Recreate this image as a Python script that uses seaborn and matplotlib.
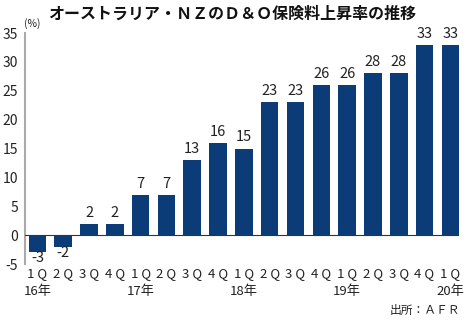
import matplotlib
matplotlib.use("Agg")
import matplotlib.pyplot as plt
import seaborn as sns
import pandas as pd

quarters = ["1 Q", "2 Q", "3 Q", "4 Q", "1 Q", "2 Q", "3 Q", "4 Q", "1 Q",
            "2 Q", "3 Q", "4 Q", "1 Q", "2 Q", "3 Q", "4 Q", "1 Q"]
values = [-3, -2, 2, 2, 7, 7, 13, 16, 15, 23, 23, 26, 26, 28, 28, 33, 33]
year_labels = ["16年", "17年", "18年", "19年", "20年"]
year_positions = [0, 4, 8, 12, 16]
yticks = [-5, 0, 5, 10, 15, 20, 25, 30, 35]

sns.set_theme(style="white")
plt.rcParams['font.family'] = ['Noto Sans CJK JP', 'DejaVu Sans']

df = pd.DataFrame({"idx": [str(i) for i in range(len(values))], "value": values})

fig = plt.figure(figsize=(4.65, 3.22), dpi=100)
ax = fig.add_axes([0.0538, 0.180, 0.933, 0.7175])
bar_color = "#0b3c78"
sns.barplot(data=df, x="idx", y="value", color=bar_color, width=0.68,
            saturation=1, ax=ax, edgecolor="none")

ax.set_xlim(-0.48, 16.33)
ax.set_ylim(-5, 35)
ax.set_yticks(yticks)
ax.set_yticklabels([str(t) for t in yticks], fontsize=10, color="#222222")
ax.set_xticks(range(len(values)))
ax.set_xticklabels(quarters, fontsize=9.5, color="#222222")
ax.set_xlabel("")
ax.set_ylabel("")

for s in ["top", "right", "bottom"]:
    ax.spines[s].set_visible(False)
ax.spines["left"].set_color("#aaaaaa")
ax.spines["left"].set_linewidth(1.5)
ax.tick_params(axis="y", direction="in", length=3, color="#aaaaaa", width=1, pad=5)
ax.tick_params(axis="x", length=0, pad=2)
ax.axhline(0, color="#333333", linewidth=0.8, zorder=3)

for i, v in enumerate(values):
    if v >= 0:
        ax.text(i, v + 0.7, str(v), ha="center", va="bottom", fontsize=10.5, color="#222222")
    else:
        ax.text(i, v + 0.2, str(v), ha="center", va="top", fontsize=10.5, color="#222222")

for p, lab in zip(year_positions, year_labels):
    ax.text(p, -0.092, lab, transform=ax.get_xaxis_transform(), ha="center", va="top",
            fontsize=9.5, color="#222222")

fig.text(0.5, 0.958, "オーストラリア・ＮＺのＤ＆Ｏ保険料上昇率の推移", ha="center", va="center",
         fontsize=11.5, fontweight="bold", color="#111111")
fig.text(0.069, 0.928, "(%)", ha="center", va="center", fontsize=7.5, color="#222222")
fig.text(0.99, 0.035, "出所：ＡＦＲ", ha="right", va="center", fontsize=8.5, color="#222222")

fig.savefig("out.png", dpi=100)
